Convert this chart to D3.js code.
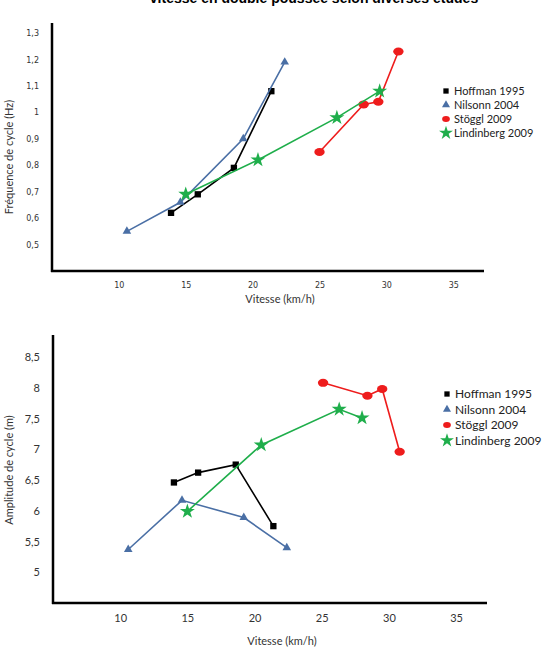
<!DOCTYPE html>
<html>
<head>
<meta charset="utf-8">
<script src="https://cdn.jsdelivr.net/npm/d3@7"></script>
<style>
  body { margin: 0; background: #fff; }
  svg { display: block; }
</style>
</head>
<body>
<script>
const width  = 543;
const height = 659;

// series names + colours
const seriesNames  = ['Hoffman 1995', 'Nilsonn 2004', 'Stöggl 2009', 'Lindinberg 2009'];
const seriesColors = ['#000000', '#4a6fa5', '#ee1c1c', '#1fae4b'];
const seriesShapes = ['square', 'triangle', 'circle', 'star'];

// top chart : fréquence (Hz) vs vitesse (km/h)
const freqHoffman    = [[13.9, 0.62], [15.9, 0.69], [18.6, 0.79], [21.4, 1.08]];
const freqNilsonn    = [[10.6, 0.55], [14.6, 0.66], [19.3, 0.90], [22.4, 1.19]];
const freqStoggl     = [[25.0, 0.85], [28.3, 1.03], [29.4, 1.04], [30.9, 1.23]];
const freqLindinberg = [[15.0, 0.69], [20.4, 0.82], [26.3, 0.98], [29.5, 1.08]];
const freqTicks      = [0.5, 0.6, 0.7, 0.8, 0.9, 1, 1.1, 1.2, 1.3];

// bottom chart : amplitude (m) vs vitesse
const ampHoffman    = [[14.0, 6.46], [15.8, 6.62], [18.6, 6.75], [21.4, 5.75]];
const ampNilsonn    = [[10.6, 5.37], [14.6, 6.17], [19.2, 5.89], [22.4, 5.40]];
const ampStoggl     = [[25.1, 8.08], [28.4, 7.87], [29.5, 7.98], [30.8, 6.96]];
const ampLindinberg = [[15.0, 5.99], [20.5, 7.07], [26.3, 7.65], [28.0, 7.51]];
const ampTicks      = [5, 5.5, 6, 6.5, 7, 7.5, 8, 8.5];

const speedTicks = [10, 15, 20, 25, 30, 35];

const svg = d3.select('body').append('svg')
  .attr('width', width)
  .attr('height', height);

// title (cut at the top of the picture, as in the source)
svg.append('text')
  .attr('x', 314).attr('y', 3)
  .attr('text-anchor', 'middle')
  .style('font-family', 'Liberation Sans, Arial, sans-serif')
  .style('font-weight', 'bold')
  .style('font-size', '14px')
  .text('vitesse en double poussée selon diverses études');

const fmt = v => String(v).replace('.', ',');

const symbolFor = {
  square:   d3.symbolSquare,
  triangle: d3.symbolTriangle,
  circle:   d3.symbolCircle,
  star:     d3.symbolStar
};
const symbolSize = { square: 40, triangle: 32, circle: 50, star: 70 };

const drawChart = function(opt) {
  const x = d3.scaleLinear().domain([5, 37.3]).range([opt.left, opt.right]);
  const y = d3.scaleLinear().domain(opt.yDomain).range([opt.bottom, opt.top]);
  const g = svg.append('g');

  // y tick labels (no tick marks)
  const yAxis = g.append('g')
    .attr('transform', 'translate(' + opt.left + ',0)')
    .call(d3.axisLeft(y).tickValues(opt.yTicks).tickSize(0).tickPadding(opt.yPad).tickFormat(fmt));
  yAxis.select('.domain').remove();
  yAxis.selectAll('text')
    .style('font-family', opt.tickFont)
    .style('font-size', opt.tickSize)
    .attr('fill', '#333');

  const xAxis = g.append('g')
    .attr('transform', 'translate(0,' + opt.bottom + ')')
    .call(d3.axisBottom(x).tickValues(speedTicks).tickSize(0).tickPadding(opt.xPad));
  xAxis.select('.domain').remove();
  xAxis.selectAll('text')
    .style('font-family', opt.tickFont)
    .style('font-size', opt.tickSize)
    .attr('fill', '#333');

  // thick axis lines
  g.append('line')
    .attr('x1', opt.left).attr('x2', opt.left)
    .attr('y1', opt.axisTop).attr('y2', opt.bottom + 1)
    .attr('stroke', '#000').attr('stroke-width', 2.5);
  g.append('line')
    .attr('x1', opt.left - 1).attr('x2', opt.right)
    .attr('y1', opt.bottom).attr('y2', opt.bottom)
    .attr('stroke', '#000').attr('stroke-width', 2.5);

  // axis titles
  g.append('text')
    .attr('x', (opt.left + opt.right) / 2 + 12).attr('y', opt.xTitleY)
    .attr('text-anchor', 'middle')
    .style('font-family', 'Lato, sans-serif').style('font-size', '11px')
    .attr('fill', '#333')
    .text('Vitesse (km/h)');
  g.append('text')
    .attr('transform', 'translate(' + opt.yTitleX + ',' + opt.yTitleY + ') rotate(-90)')
    .attr('text-anchor', 'middle')
    .style('font-family', 'Lato, sans-serif').style('font-size', '11px')
    .attr('fill', '#333')
    .text(opt.yTitle);

  const line = d3.line().x(d => x(d[0])).y(d => y(d[1]));

  opt.series.forEach((s, i) => {
    g.append('path')
      .datum(s)
      .attr('d', line)
      .attr('fill', 'none')
      .attr('stroke', seriesColors[i])
      .attr('stroke-width', 1.6);
    const shape = seriesShapes[i];
    g.selectAll('.pt' + i)
      .data(s)
      .enter().append('path')
      .attr('class', 'pt' + i)
      .attr('transform', d => 'translate(' + x(d[0]) + ',' + y(d[1]) + ')' + (shape === 'circle' ? ' scale(1.3,1)' : ''))
      .attr('d', d3.symbol().type(symbolFor[shape]).size(symbolSize[shape]))
      .attr('fill', seriesColors[i]);
  });

  // legend
  const lg = g.append('g');
  seriesNames.forEach((name, i) => {
    const ly = opt.legendY + i * opt.legendStep;
    const shape = seriesShapes[i];
    lg.append('path')
      .attr('transform', 'translate(' + opt.legendX + ',' + ly + ')' + (shape === 'circle' ? ' scale(1.3,1)' : ''))
      .attr('d', d3.symbol().type(symbolFor[shape]).size(shape === 'star' ? 60 : 28))
      .attr('fill', seriesColors[i]);
    lg.append('text')
      .attr('x', opt.legendX + 8).attr('y', ly)
      .attr('dy', '0.35em')
      .style('font-family', 'Lato, sans-serif')
      .style('font-size', opt.legendFont)
      .attr('fill', '#222')
      .text(name);
  });
};

drawChart({
  left: 52, right: 484, top: 33, bottom: 271, axisTop: 23,
  yDomain: [0.4, 1.3], yTicks: freqTicks,
  series: [freqHoffman, freqNilsonn, freqStoggl, freqLindinberg],
  tickFont: 'DejaVu Sans, sans-serif', tickSize: '8px', yPad: 13, xPad: 11,
  xTitleY: 303, yTitle: 'Fréquence de cycle (Hz)', yTitleX: 13, yTitleY: 157,
  legendX: 446, legendY: 91, legendStep: 14, legendFont: '11px'
});

drawChart({
  left: 53, right: 487, top: 357, bottom: 603, axisTop: 335,
  yDomain: [4.5, 8.5], yTicks: ampTicks,
  series: [ampHoffman, ampNilsonn, ampStoggl, ampLindinberg],
  tickFont: 'Lato, sans-serif', tickSize: '11px', yPad: 13, xPad: 11,
  xTitleY: 645, yTitle: 'Amplitude de cycle (m)', yTitleX: 13, yTitleY: 470,
  legendX: 447, legendY: 394, legendStep: 15.5, legendFont: '12px'
});
</script>
</body>
</html>
